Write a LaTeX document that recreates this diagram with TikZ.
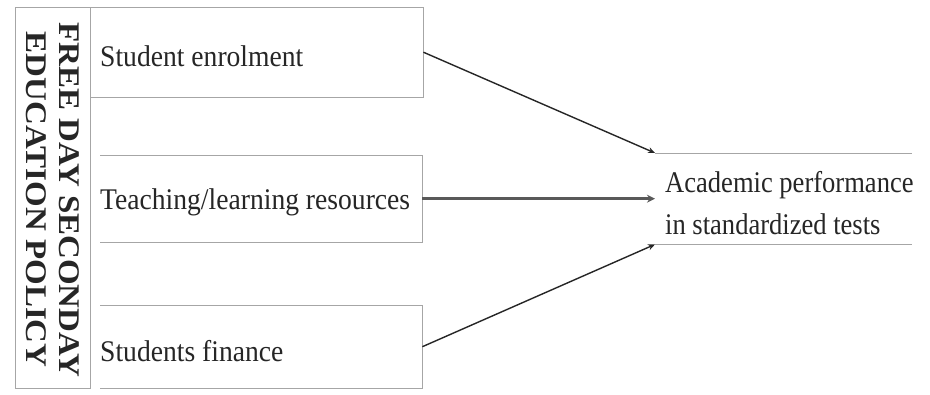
\documentclass[tikz,border=0pt]{standalone}
\usepackage{fontspec}
\setmainfont{Liberation Serif}
\newfontfamily\hfont[FakeStretch=0.92]{Liberation Serif}
\newfontfamily\afont[FakeStretch=0.885]{Liberation Serif}
\newfontfamily\vfont[FakeStretch=1.1]{Liberation Serif}
\usetikzlibrary{arrows.meta}
\begin{document}
\begin{tikzpicture}[x=1pt,y=-1pt,
  boxline/.style={draw=black!35, line width=0.9pt},
  cell/.style={draw=none, inner sep=0pt, anchor=north west},
  lbl/.style={font=\hfont\fontsize{30}{40}\selectfont, text=black!85, inner sep=0pt, anchor=west, align=left},
  arr/.style={draw=black!85, line width=1.4pt, -{Stealth[length=7pt,width=6pt]}},
  arrthick/.style={draw=black!65, line width=3pt, -{Stealth[length=8pt,width=8pt]}}]
\useasboundingbox[fill=white] (0,0) rectangle (930,394);
% policy column
\node[cell, minimum width=75pt, minimum height=381pt] (pol) at (15,7) {};
\draw[boxline] (pol.north west) rectangle (pol.south east);
\node[rotate=-90, font=\vfont\bfseries\fontsize{30}{33}\selectfont, text=black!85, align=center, inner sep=0pt] (poltxt) at ([yshift=-2pt]pol.center) {FREE DAY SECONDAY\\EDUCATION POLICY};
% cells
\node[cell, minimum width=333pt, minimum height=90pt] (se) at (90,7) {};
\node[cell, minimum width=322pt, minimum height=87pt] (tl) at (100,155) {};
\node[cell, minimum width=322pt, minimum height=83pt] (sf) at (100,305) {};
\node[cell, minimum width=257pt, minimum height=91pt] (ap) at (655,153) {};
\draw[boxline] (se.north west) -- (se.north east) -- (se.south east) -- (se.south west);
\draw[boxline] (tl.north west) -- (tl.north east) -- (tl.south east) -- (tl.south west);
\draw[boxline] (sf.north west) -- (sf.north east) -- (sf.south east) -- (sf.south west);
\draw[boxline] (ap.north west) -- (ap.north east);
\draw[boxline] (ap.south west) -- (ap.south east);
% labels
\node[lbl] (setxt) at ([xshift=10pt,yshift=-4pt]se.west) {Student enrolment};
\node[lbl] (tltxt) at ([xshift=0pt,yshift=-4pt]tl.west) {Teaching/learning resources};
\node[lbl] (sftxt) at ([xshift=0pt,yshift=-4pt]sf.west) {Students finance};
\node[lbl, font=\afont\fontsize{30}{42}\selectfont] (aptxt) at ([xshift=10pt,yshift=-4pt]ap.west) {Academic performance\\in standardized tests};
% connectors
\draw[arr] (se.east) -- (ap.north west);
\draw[arrthick] (tl.east) -- (ap.west);
\draw[arr] (sf.east) -- (ap.south west);
\end{tikzpicture}
\end{document}
